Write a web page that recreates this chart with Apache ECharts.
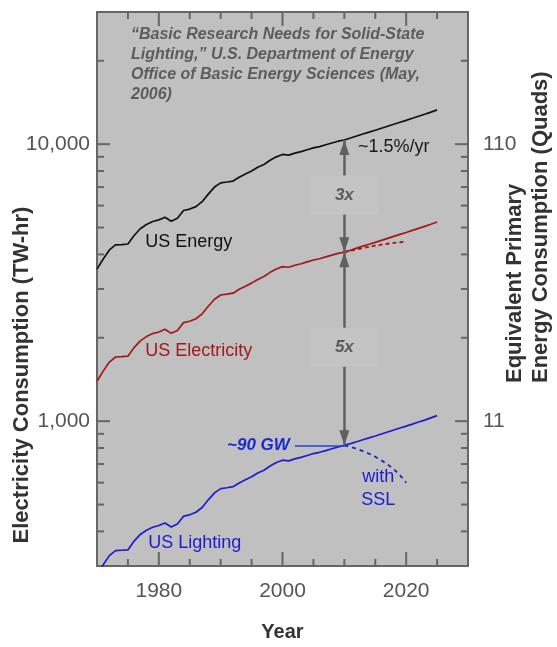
<!DOCTYPE html>
<html><head><meta charset="utf-8">
<script src="https://cdn.jsdelivr.net/npm/echarts@6/dist/echarts.min.js"></script>
<style>html,body{margin:0;padding:0;background:#fff}#c{width:557px;height:647px}</style>
</head><body><div id="c"></div>
<script>
const years = [1970,1971,1972,1973,1974,1975,1976,1977,1978,1979,1980,1981,1982,1983,1984,1985,1986,1987,1988,1989,
  1990,1991,1992,1993,1994,1995,1996,1997,1998,1999,2000,2001,2002,2003,2004,2005,2006,2007,2008,2009,
  2010,2011,2012,2013,2014,2015,2016,2017,2018,2019,2020,2021,2022,2023,2024,2025];
const usEnergy = [3540,3850,4150,4330,4340,4360,4680,4950,5130,5260,5330,5450,5270,5400,5760,5830,5950,6200,6600,7000,
  7250,7300,7360,7600,7800,8000,8250,8450,8750,9000,9180,9130,9280,9400,9550,9700,9800,9950,10100,10250,
  10350,10520,10700,10880,11050,11230,11420,11610,11800,12000,12190,12400,12610,12820,13050,13300];
const usElectricity = [1394,1516,1634,1705,1709,1717,1843,1949,2020,2071,2098,2146,2075,2126,2268,2295,2343,2441,2598,2756,
  2854,2874,2898,2992,3071,3150,3248,3327,3445,3543,3614,3594,3654,3701,3760,3819,3858,3917,3976,4035,
  4075,4142,4213,4283,4350,4421,4496,4571,4646,4724,4799,4882,4965,5047,5138,5236];
const usLighting = [279,303,327,341,342,343,369,390,404,414,420,429,415,425,454,459,469,488,520,551,
  571,575,580,598,614,630,650,665,689,709,723,719,731,740,752,764,772,783,795,807,
  818,830,843,857,870,884,899,914,929,945,960,976,993,1009,1028,1047];
const sslYears = [2010,2011,2012,2013,2014,2015,2016,2017,2018,2019,2020];
const electricityWithSSL = [4075,4120,4170,4215,4260,4300,4340,4370,4400,4425,4450];
const lightingWithSSL = [818,808,795,780,763,744,722,698,670,638,600];

const xMajorTicks = [1980,2000,2020];
const xMinorTicks = [1975,1985,1990,1995,2005,2010,2015,2025];
const yMajorTicks = [1000,10000];
const yMinorTicks = [400,500,600,700,800,900,2000,3000,4000,5000,6000,7000,8000,9000,20000];
const xTickLabels = [1980,2000,2020];
const leftTickLabels = {1000:'1,000', 10000:'10,000'};
const rightTickLabels = {1000:'11', 10000:'110'};

const FONT = "'Liberation Sans', Arial, sans-serif";
const pairs = (xs, ys) => xs.map((x, i) => [x, ys[i]]);
const i2010 = years.indexOf(2010);
const eA = usEnergy[i2010], elA = usElectricity[i2010], lA = usLighting[i2010];

const chart = echarts.init(document.getElementById('c'), null, {renderer:'canvas'});
const axisLineStyle = {color:'#666', width:2};
const gwLine = {color:'#1f3fe0', width:1.5, type:'solid'};

const txt = (coord, text, color, extra) => ({
  coord, symbol:'circle', symbolSize:1, itemStyle:{color:'rgba(0,0,0,0)'},
  label: Object.assign({show:true, position:'inside', formatter:text, color, fontSize:18,
    fontFamily:FONT, align:'left', verticalAlign:'middle'}, extra || {})
});

const option = {
  animation: false,
  backgroundColor: '#ffffff',
  title: {
    text: '\u201cBasic Research Needs for Solid-State\nLighting,\u201d U.S. Department of Energy\nOffice of Basic Energy Sciences (May,\n2006)',
    left: 131, top: 25, padding: 0,
    textStyle: {fontSize:16, fontWeight:'bold', fontStyle:'italic', color:'#5c5c5c', lineHeight:20, fontFamily:FONT}
  },
  grid: {left:97, right:89, top:12, bottom:78, show:true, backgroundColor:'#c0c0c0', borderWidth:0},
  xAxis: [
    {type:'value', position:'bottom', min:1970, max:2030, interval:5,
     splitLine:{show:false}, axisTick:{show:false},
     axisLine:{show:true, onZero:false, lineStyle:axisLineStyle},
     axisLabel:{margin:15, fontSize:21, color:'#555', fontFamily:FONT,
       formatter: v => xTickLabels.includes(v) ? String(v) : ''},
     name:'Year', nameLocation:'middle', nameGap:56,
     nameTextStyle:{fontSize:20, fontWeight:'bold', color:'#333', fontFamily:FONT}},
    {type:'value', position:'top', min:1970, max:2030, interval:5,
     splitLine:{show:false}, axisTick:{show:false}, axisLabel:{show:false},
     axisLine:{show:true, onZero:false, lineStyle:axisLineStyle}}
  ],
  yAxis: [
    {type:'log', logBase:10, min:300, max:30000, position:'left',
     splitLine:{show:false}, axisTick:{show:false},
     axisLine:{show:true, onZero:false, lineStyle:axisLineStyle},
     axisLabel:{margin:7, fontSize:21, color:'#555', fontFamily:FONT,
       formatter: v => leftTickLabels[Math.round(v)] || ''}},
    {type:'log', logBase:10, min:300, max:30000, position:'right',
     splitLine:{show:false}, axisTick:{show:false},
     axisLine:{show:true, onZero:false, lineStyle:axisLineStyle},
     axisLabel:{margin:15, fontSize:21, color:'#555', fontFamily:FONT,
       formatter: v => rightTickLabels[Math.round(v)] || ''}}
  ],
  graphic: [
    {type:'text', x:22, y:375, rotation:Math.PI/2, silent:true,
     style:{text:'Electricity Consumption (TW-hr)', fill:'#333', font:'bold 22px ' + FONT,
       align:'center', verticalAlign:'middle', textAlign:'center', textVerticalAlign:'middle'}},
    {type:'text', x:528, y:383, rotation:Math.PI/2, silent:true,
     style:{text:'Equivalent Primary\nEnergy Consumption (Quads)', fill:'#333', font:'bold 22px ' + FONT,
       lineHeight:26, align:'left', verticalAlign:'middle', textAlign:'left', textVerticalAlign:'middle'}}
  ],
  series: [
    {name:'US Energy', type:'line', data:pairs(years, usEnergy), symbol:'none', z:3,
     lineStyle:{color:'#111', width:1.7}},
    {name:'US Electricity', type:'line', data:pairs(years, usElectricity), symbol:'none', z:3,
     lineStyle:{color:'#a31818', width:1.7}},
    {name:'US Lighting', type:'line', data:pairs(years, usLighting), symbol:'none', z:3,
     lineStyle:{color:'#1c1cd0', width:1.7}},
    {name:'Electricity with SSL', type:'line', data:pairs(sslYears, electricityWithSSL), symbol:'none', z:3,
     lineStyle:{color:'#a31818', width:1.8, type:[4,3]}},
    {name:'Lighting with SSL', type:'line', data:pairs(sslYears, lightingWithSSL), symbol:'none', z:3,
     lineStyle:{color:'#1c1cd0', width:1.8, type:[4,4]},
     markLine:{
       silent:true, z:4, symbol:['triangle','triangle'], symbolSize:[10,15], symbolOffset:[[0,7.5],[0,7.5]],
       lineStyle:{color:'#606060', width:2.5, type:'solid'}, label:{show:false},
       data:[
         [{coord:[2010, eA]}, {coord:[2010, elA]}],
         [{coord:[2010, elA]}, {coord:[2010, lA]}],
         [{coord:[2002, lA], symbol:'none', lineStyle:gwLine,
           label:{show:true, position:'start', distance:5, formatter:'~90 GW', color:'#1a2ad0',
             fontSize:17, fontWeight:'bold', fontStyle:'italic', fontFamily:FONT}},
          {coord:[2010, lA], symbol:'none', lineStyle:gwLine}]
       ]
     }},
    {name:'annotations', type:'line', data:[], symbol:'none', z:5,
     markPoint:{
       silent:true, z:6,
       data:[
         txt([1977.8, 4424], 'US Energy', '#111'),
         txt([1977.8, 1792], 'US Electricity', '#a31818'),
         txt([1978.3, 362], 'US Lighting', '#1c1cd0'),
         txt([2012.2, 9780], '~1.5%/yr', '#1a1a1a'),
         txt([2015.5, 573], 'with\nSSL', '#1c1cd0', {align:'center', fontSize:18, lineHeight:23}),
         txt([2010, 6550], '3x', '#5a5a5a', {align:'center', fontSize:17, fontWeight:'bold', fontStyle:'italic',
           backgroundColor:'#c4c4c4', padding:[11,25]}),
         txt([2010, 1850], '5x', '#5a5a5a', {align:'center', fontSize:17, fontWeight:'bold', fontStyle:'italic',
           backgroundColor:'#c4c4c4', padding:[11,25]})
       ]
     }},
    {name:'ticks', type:'custom', coordinateSystem:'cartesian2d', xAxisIndex:0, yAxisIndex:0,
     silent:true, z:10, clip:false, data:[[2000, 1000]],
     renderItem: (params, api) => {
       const cs = params.coordSys;
       const L = cs.x, R = cs.x + cs.width, T = cs.y, B = cs.y + cs.height;
       const st = {stroke:'#666', lineWidth:2};
       const ch = [];
       const seg = (x1, y1, x2, y2) => ch.push({type:'line', shape:{x1, y1, x2, y2}, style:st});
       xMinorTicks.forEach(v => { const x = api.coord([v, 1000])[0]; seg(x, B, x, B - 7); seg(x, T, x, T + 7); });
       xMajorTicks.forEach(v => { const x = api.coord([v, 1000])[0]; seg(x, B, x, B - 14); seg(x, T, x, T + 14); });
       yMinorTicks.forEach(v => { const y = api.coord([2000, v])[1]; seg(L, y, L + 7, y); seg(R, y, R - 7, y); });
       yMajorTicks.forEach(v => { const y = api.coord([2000, v])[1]; seg(L, y, L + 13, y); seg(R, y, R - 13, y); });
       return {type:'group', children:ch};
     }}
  ]
};
chart.setOption(option);
</script>
</body></html>
